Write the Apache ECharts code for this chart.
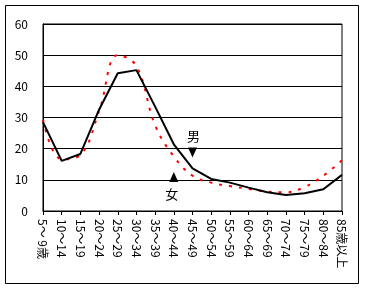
<!DOCTYPE html>
<html><head><meta charset="utf-8">
<script src="https://cdn.jsdelivr.net/npm/echarts@6/dist/echarts.min.js"></script>
<style>html,body{margin:0;padding:0;background:#fff}#c{width:367px;height:291px}</style>
</head><body><div id="c"></div>
<script>
const categories = ['5～ 9歳','10～14','15～19','20～24','25～29','30～34','35～39','40～44','45～49','50～54','55～59','60～64','65～69','70～74','75～79','80～84','85歳以上'];
const male = [28.5,16.1,18.3,32.5,44.2,45.2,33.5,21.4,13.7,10.3,9.1,7.5,6.0,5.1,5.7,7.0,11.6];
const female = [29.3,16.6,18.0,32.0,50.0,46.5,27.5,17.5,11.3,9.1,8.0,7.1,6.2,6.0,7.7,11.3,16.3];
const yTicks = [0,10,20,30,40,50,60];
const maleNote = {text:'男', cat:'45～49', textValue:24, arrowValue:18.8};
const femaleNote = {text:'女', cat:'40～44', textValue:5.4, arrowValue:10.9};

const font = '"Noto Sans CJK JP", sans-serif';
const chart = echarts.init(document.getElementById('c'));
chart.setOption({
  animation:false,
  backgroundColor:'#fff',
  graphic:[{type:'rect',shape:{x:5.5,y:5.5,width:353,height:278},style:{fill:'none',stroke:'#000',lineWidth:1},silent:true}],
  grid:{left:43,top:24,right:25,bottom:80,show:true,borderColor:'#000',borderWidth:1},
  xAxis:{type:'category',data:categories,boundaryGap:false,
    axisLine:{lineStyle:{color:'#000',width:1}},
    axisTick:{show:true,length:4,lineStyle:{color:'#000'}},
    axisLabel:{rotate:-90,color:'#000',fontSize:12,fontFamily:font,margin:8,interval:0}},
  yAxis:{type:'value',min:yTicks[0],max:yTicks[yTicks.length-1],interval:10,
    axisLine:{show:true,lineStyle:{color:'#000'}},axisTick:{show:false},
    axisLabel:{color:'#000',fontSize:12,fontFamily:font,margin:15},
    splitLine:{lineStyle:{color:'#000',width:1}}},
  series:[
    {name:'女',type:'line',data:female,smooth:0.4,smoothConstraint:false,symbol:'none',
     lineStyle:{color:'#ff0000',width:2,type:[3,7]},z:2,
     markPoint:{symbol:'triangle',symbolSize:[9,10],silent:true,
       label:{show:false},itemStyle:{color:'#000'},
       data:[
        {coord:[femaleNote.cat,femaleNote.arrowValue]},
        {coord:[femaleNote.cat,femaleNote.textValue],symbolSize:0,label:{show:true,formatter:femaleNote.text,color:'#000',fontSize:13,fontFamily:font,position:'inside',offset:[-2,0]}}
       ]}},
    {name:'男',type:'line',data:male,symbol:'none',
     lineStyle:{color:'#000',width:2},z:3,
     markPoint:{symbol:'triangle',symbolSize:[9,10],silent:true,
       label:{show:false},itemStyle:{color:'#000'},
       data:[
        {coord:[maleNote.cat,maleNote.arrowValue],symbolRotate:180},
        {coord:[maleNote.cat,maleNote.textValue],symbolSize:0,label:{show:true,formatter:maleNote.text,color:'#000',fontSize:13,fontFamily:font,position:'inside',offset:[1,0]}}
       ]}}
  ]
});
</script></body></html>
